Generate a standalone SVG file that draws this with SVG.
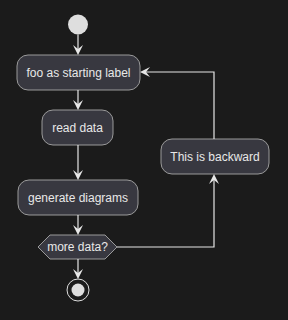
<svg xmlns="http://www.w3.org/2000/svg" width="288" height="320" viewBox="0 0 288 320">
<style>
.bg{fill:#1b1b1b}
.box{fill:#383840;stroke:#9a9a9a;stroke-width:1}
.t{font-family:"Liberation Sans",Arial,sans-serif;font-size:12px;fill:#e8e8e8;text-anchor:middle}
.ln{stroke:#e6e6e6;stroke-width:1.2;fill:none}
.ah{fill:#e6e6e6}
</style>
<rect class="bg" x="0" y="0" width="288" height="320"/>
<g id="start"><circle cx="78" cy="24.5" r="10" fill="#dedede"/></g>
<g id="foo"><rect class="box" x="17" y="55" width="123" height="35" rx="11"/><text class="t" x="78.5" y="77">foo as starting label</text></g>
<g id="read"><rect class="box" x="42" y="110" width="71" height="35" rx="11"/><text class="t" x="77.5" y="132">read data</text></g>
<g id="generate"><rect class="box" x="18" y="180" width="120" height="35" rx="11"/><text class="t" x="78" y="202">generate diagrams</text></g>
<g id="more"><polygon class="box" points="38,247 50,235 105,235 117,247 105,259 50,259"/><text class="t" x="77.5" y="251">more data?</text></g>
<g id="backward"><rect class="box" x="161" y="139" width="108" height="35" rx="11"/><text class="t" x="215" y="161">This is backward</text></g>
<g id="end"><circle cx="78" cy="290" r="11" fill="none" stroke="#dedede" stroke-width="1"/><circle cx="78" cy="290" r="6.5" fill="#dedede"/></g>
<g id="connectors">
<line class="ln" x1="78" y1="34.5" x2="78" y2="52"/>
<polygon class="ah" points="78,55 73,45 78,49 83,45"/>
<line class="ln" x1="78" y1="90" x2="78" y2="107"/>
<polygon class="ah" points="78,110 73,100 78,104 83,100"/>
<line class="ln" x1="78" y1="145" x2="78" y2="177"/>
<polygon class="ah" points="78,180 73,170 78,174 83,170"/>
<line class="ln" x1="78" y1="215" x2="78" y2="232"/>
<polygon class="ah" points="78,235 73,225 78,229 83,225"/>
<line class="ln" x1="78" y1="259" x2="78" y2="276"/>
<polygon class="ah" points="78,279 73,269 78,273 83,269"/>
<polyline class="ln" points="117,247 214,247 214,177"/>
<polygon class="ah" points="214,174 209,184 214,180 219,184"/>
<polyline class="ln" points="214,139 214,72 143,72"/>
<polygon class="ah" points="140,72 150,67 146,72 150,77"/>
</g>
</svg>
